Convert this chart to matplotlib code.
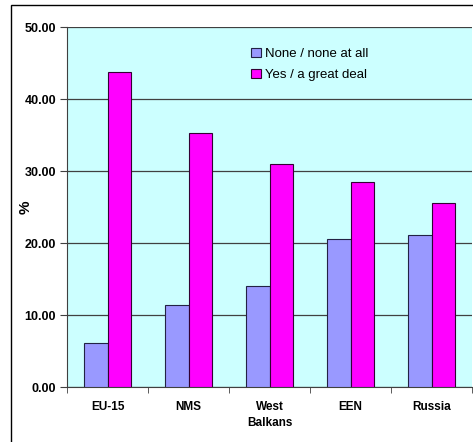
import matplotlib
matplotlib.use("Agg")
from matplotlib import pyplot as plt
from matplotlib.patches import Rectangle
import numpy as np

regions = ["EU-15", "NMS", "West\nBalkans", "EEN", "Russia"]
none_vals = [6.15, 11.4, 14.0, 20.6, 21.1]
yes_vals = [43.8, 35.3, 31.0, 28.5, 25.6]

plt.rcParams['font.family'] = ['Liberation Sans', 'DejaVu Sans']

W, H = 473, 442
fig = plt.figure(figsize=(W / 100, H / 100), dpi=100)
fig.patch.set_facecolor('white')

# outer chart frame
fig.patches.append(Rectangle((11 / W, -0.05), 1.0, (H - 5) / H + 0.05,
                             transform=fig.transFigure, fill=False,
                             edgecolor='black', linewidth=1.0))

ax = fig.add_axes([67 / W, (H - 387) / H, 405 / W, 360 / H])
ax.set_facecolor('#CCFFFF')

x = np.arange(len(regions))
w = 0.29
ax.bar(x - w / 2, none_vals, w, color='#9999FF', edgecolor='#222244',
       linewidth=0.8, label='None / none at all', zorder=3)
ax.bar(x + w / 2, yes_vals, w, color='#FF00FF', edgecolor='#330033',
       linewidth=0.8, label='Yes / a great deal', zorder=3)

ax.set_xlim(-0.5, len(regions) - 0.5)
ax.set_ylim(0, 50)
ax.set_yticks(np.arange(0, 51, 10))
ax.set_yticklabels([f"{v:.2f}" for v in range(0, 51, 10)],
                   fontsize=9, fontweight='bold')
ax.yaxis.grid(True, color='#404040', linewidth=0.9, zorder=0)

ax.set_xticks(x)
ax.set_xticklabels(regions, fontsize=8.5, fontweight='bold', linespacing=1.5)
ax.set_xticks(np.arange(-0.5, len(regions)), minor=True)
ax.tick_params(axis='x', which='major', length=0, pad=10)
ax.tick_params(axis='x', which='minor', length=4, color='#404040')
ax.tick_params(axis='y', length=5, color='#404040', pad=3)

ax.set_ylabel('%', fontsize=11, fontweight='bold')
ax.yaxis.set_label_coords(-0.085, 0.5)

for s in ['top', 'right']:
    ax.spines[s].set_visible(False)
ax.spines['left'].set_color('#404040')
ax.spines['bottom'].set_color('#404040')

ax.legend(loc='upper left', bbox_to_anchor=(0.455, 0.942), frameon=False,
          fontsize=9.5, handlelength=0.7, handleheight=0.7, handletextpad=0.35,
          labelspacing=0.65, borderpad=0, borderaxespad=0)

fig.savefig('out.png', dpi=100)
